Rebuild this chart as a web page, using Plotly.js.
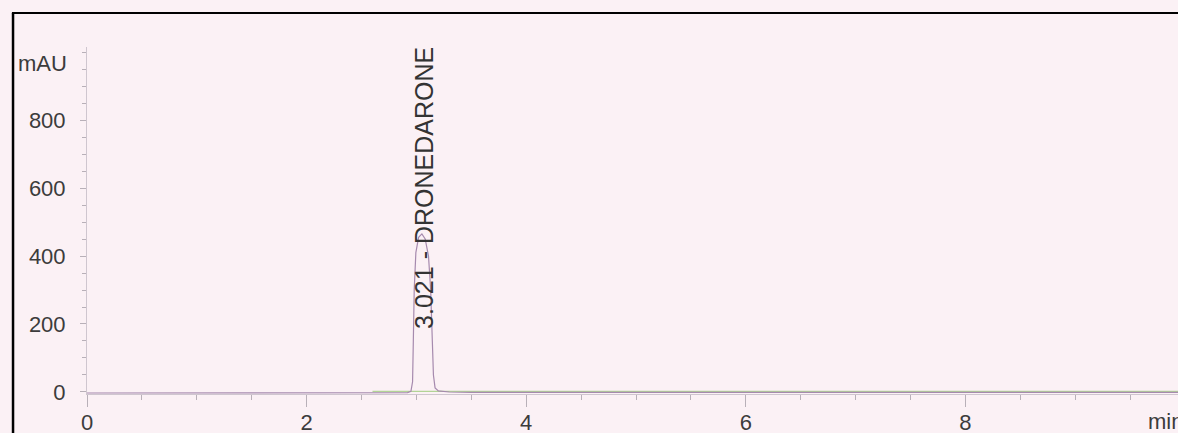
<!DOCTYPE html>
<html>
<head>
<meta charset="utf-8">
<script src="https://cdn.plot.ly/plotly-3.0.1.min.js"></script>
<style>
html,body{margin:0;padding:0;background:#fbf1f5;overflow:hidden;}
#chart{width:1178px;height:433px;}
</style>
</head>
<body>
<div id="chart"></div>
<script>
// Chromatogram signal (time in min, absorbance in mAU)
const signalTime = [0, 0.5, 1, 1.5, 2, 2.5, 2.8, 2.92, 2.95, 2.965, 2.972, 2.98, 2.995, 3.02, 3.05, 3.08, 3.11, 3.13, 3.145, 3.155, 3.17, 3.2, 3.3, 3.5, 4, 5, 6, 7, 8, 9, 10];
const signalMAU  = [-3, -3, -3, -3, -3, -3, -3, -2, 2, 30, 150, 300, 410, 455, 465, 450, 400, 300, 150, 50, 12, 3, 0, -1, -1, -1, -1, -1, -1, -1, -1];
// Integration baseline
const baseTime = [2.6, 4, 6, 8, 10];
const baseMAU  = [2, 2, 2, 2, 2];
// Peak label
const peakRT = 3.021;
const peakName = "DRONEDARONE";
const yTicks = [0, 200, 400, 600, 800];
const xTicks = [0, 2, 4, 6, 8];

const bg = "#fbf1f5";
const traces = [
  {x: baseTime, y: baseMAU, mode: "lines", line: {color: "#b2d496", width: 1.2}, hoverinfo: "skip"},
  {x: signalTime, y: signalMAU, mode: "lines", line: {color: "#a68aae", width: 1.2}, hoverinfo: "skip"}
];

const fnt = {family: "Liberation Sans, Arial, sans-serif", size: 22, color: "#3c3c3c"};

const layout = {
  width: 1178, height: 433,
  paper_bgcolor: bg, plot_bgcolor: bg,
  showlegend: false,
  margin: {l: 87, r: 0, t: 47, b: 39, pad: 0},
  font: fnt,
  xaxis: {
    range: [0, 9.936], tickvals: xTicks, ticktext: xTicks.map(String),
    showgrid: false, zeroline: false, showline: true, linecolor: "#cfc6cf", linewidth: 1,
    ticks: "outside", ticklen: 12, tickcolor: "#b8b0b8", tickwidth: 1,
    minor: {dtick: 0.5, ticks: "outside", ticklen: 5, tickcolor: "#b8b0b8", showgrid: false},
    tickfont: fnt, ticklabelstandoff: -3
  },
  yaxis: {
    range: [-5.9, 1014.7], tickvals: yTicks, ticktext: yTicks.map(String),
    showgrid: false, zeroline: false, showline: true, linecolor: "#cfc6cf", linewidth: 1,
    ticks: "outside", ticklen: 6, tickcolor: "#b8b0b8", tickwidth: 1,
    minor: {dtick: 50, ticks: "outside", ticklen: 4, tickcolor: "#b8b0b8", showgrid: false},
    tickfont: fnt, ticklabelstandoff: 10
  },
  annotations: [
    {xref: "paper", yref: "y", x: -0.0165, y: 965, xanchor: "right", yanchor: "middle",
     text: "mAU", showarrow: false, font: fnt},
    {xref: "x", yref: "paper", x: 9.82, y: -0.08, xanchor: "center", yanchor: "middle",
     text: "min", showarrow: false, font: fnt},
    {xref: "x", yref: "y", x: 3.07, y: 180, xanchor: "center", yanchor: "bottom",
     text: peakRT.toFixed(3) + " - " + peakName, textangle: -90, showarrow: false,
     font: {family: "Liberation Sans, Arial, sans-serif", size: 25, color: "#333"}}
  ],
  shapes: [
    {type: "line", xref: "paper", yref: "paper", x0: -0.0678, x1: -0.0678, y0: -0.2, y1: 1.098,
     line: {color: "#000", width: 2.5}},
    {type: "line", xref: "paper", yref: "paper", x0: -0.0688, x1: 1.0, y0: 1.098, y1: 1.098,
     line: {color: "#000", width: 2}}
  ]
};

Plotly.newPlot("chart", traces, layout, {displayModeBar: false, staticPlot: true});
</script>
</body>
</html>
